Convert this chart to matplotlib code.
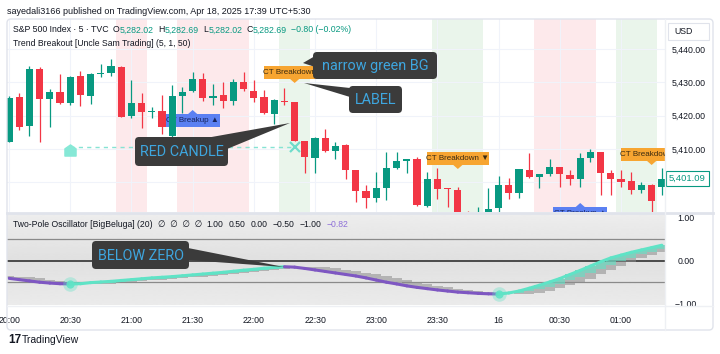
import matplotlib
matplotlib.use("Agg")
import matplotlib.pyplot as plt
import matplotlib.transforms as mtransforms
from matplotlib.patches import FancyBboxPatch, Polygon, Rectangle
from matplotlib.collections import LineCollection
from matplotlib.lines import Line2D
from matplotlib.path import Path
import numpy as np

# ---- data (5 min candles, index 0 = 20:00) ----
times = ["20:00", "20:30", "21:00", "21:30", "22:00", "22:30", "23:00", "23:30", "16", "00:30", "01:00"]
time_pos = [0, 6, 12, 18, 24, 30, 36, 42, 48, 54, 60]

opens = [5412.2, 5425.5, 5416.9, 5434.0, 5424.9, 5427.2, 5423.9, 5432.0, 5426.0, 5432.4,
         5432.9, 5434.7, 5419.9, 5423.9, 5421.0, 5421.4, 5413.9, 5426.0, 5427.4, 5431.0,
         5425.4, 5426.2, 5424.5, 5430.2, 5427.4, 5425.7, 5420.5, 5424.5, 5424.0, 5412.5,
         5407.4, 5413.4, 5409.5, 5411.2, 5403.7, 5397.4, 5395.2, 5398.2, 5404.2, 5406.4,
         5406.9, 5392.9, 5400.9, 5398.2, 5397.7, 5389.5, 5388.0, 5389.0, 5392.2, 5399.2,
         5396.7, 5403.7, 5401.5, 5402.5, 5404.5, 5402.2, 5400.9, 5407.4, 5409.0, 5402.7,
         5401.0, 5400.4, 5397.7, 5399.2, 5398.7]
highs = [5426.0, 5426.7, 5435.0, 5434.6, 5427.9, 5432.5, 5432.0, 5433.4, 5432.9, 5435.4,
         5437.0, 5435.0, 5430.7, 5426.7, 5422.7, 5426.2, 5429.2, 5428.7, 5433.0, 5432.7,
         5429.4, 5430.0, 5431.0, 5433.0, 5430.7, 5427.7, 5425.0, 5428.2, 5424.2, 5412.5,
         5413.5, 5416.0, 5412.0, 5411.5, 5403.7, 5399.2, 5403.2, 5409.2, 5409.0, 5407.0,
         5407.5, 5403.2, 5404.2, 5398.3, 5398.7, 5391.5, 5392.7, 5398.2, 5402.0, 5401.2,
         5404.0, 5408.7, 5402.5, 5406.9, 5404.5, 5403.7, 5408.7, 5409.9, 5409.2, 5403.7,
         5403.7, 5403.2, 5400.0, 5399.5, 5404.2]
lows = [5412.0, 5415.6, 5414.0, 5412.0, 5416.7, 5423.5, 5423.2, 5423.0, 5423.4, 5431.6,
        5432.0, 5419.5, 5419.2, 5416.2, 5419.2, 5414.4, 5413.2, 5420.7, 5427.0, 5424.4,
        5423.2, 5422.2, 5423.2, 5427.4, 5424.0, 5420.5, 5417.5, 5423.2, 5412.3, 5402.7,
        5402.7, 5409.0, 5407.0, 5401.0, 5394.0, 5392.3, 5394.0, 5394.7, 5404.0, 5402.7,
        5393.0, 5392.5, 5394.9, 5392.6, 5388.0, 5386.0, 5386.5, 5388.0, 5391.0, 5394.9,
        5395.2, 5401.2, 5398.2, 5402.0, 5398.7, 5399.2, 5398.7, 5406.2, 5396.2, 5396.2,
        5398.7, 5396.4, 5396.7, 5391.0, 5396.2]
closes = [5425.4, 5416.7, 5434.0, 5424.9, 5427.0, 5423.7, 5431.6, 5426.3, 5432.4, 5432.9,
          5434.9, 5419.7, 5423.7, 5421.0, 5421.4, 5416.7, 5425.9, 5427.2, 5431.0, 5425.4,
          5426.0, 5424.5, 5430.0, 5427.9, 5425.4, 5420.7, 5424.7, 5424.0, 5412.5, 5407.5,
          5413.2, 5409.5, 5411.0, 5403.7, 5397.4, 5395.4, 5398.2, 5404.2, 5406.4, 5406.9,
          5393.2, 5400.9, 5397.9, 5397.9, 5389.5, 5388.0, 5389.0, 5392.0, 5399.2, 5396.7,
          5403.9, 5401.5, 5402.5, 5404.5, 5402.4, 5400.9, 5407.4, 5409.2, 5402.7, 5401.0,
          5400.2, 5397.7, 5399.2, 5394.4, 5401.09]

red_bg = [(11, 13), (17, 23), (52, 57)]
green_bg = [(27, 29), (42, 46), (60, 63)]

breakdown_at = [28, 44, 63]
breakdown_tip = [5429.8, 5404.0, 5405.2]
breakup_at = [18, 56]
breakup_tip = [5421.7, 5393.8]

level_from, level_to = 6, 28
level_price = 5410.5
level_mark = 5409.8

price_ticks = [5410, 5420, 5430, 5440]
hidden_grid = 5400
last_price = 5401.09

osc = [-0.41, -0.44, -0.47, -0.50, -0.52, -0.535, -0.54, -0.535, -0.51, -0.495,
       -0.48, -0.46, -0.44, -0.42, -0.40, -0.385, -0.37, -0.35, -0.33, -0.31,
       -0.29, -0.27, -0.245, -0.22, -0.20, -0.175, -0.155, -0.14, -0.15, -0.18,
       -0.215, -0.25, -0.285, -0.32, -0.355, -0.40, -0.45, -0.50, -0.54, -0.585,
       -0.62, -0.65, -0.68, -0.705, -0.73, -0.745, -0.76, -0.77, -0.775, -0.75,
       -0.705, -0.64, -0.57, -0.495, -0.415, -0.32, -0.225, -0.125, -0.025, 0.065,
       0.13, 0.195, 0.25, 0.305, 0.36]
signal = [-0.35, -0.37, -0.39, -0.41, -0.44, -0.47, -0.50, -0.52, -0.535, -0.54,
          -0.535, -0.51, -0.495, -0.48, -0.46, -0.44, -0.42, -0.40, -0.385, -0.37,
          -0.35, -0.33, -0.31, -0.29, -0.27, -0.245, -0.22, -0.20, -0.175, -0.155,
          -0.14, -0.15, -0.18, -0.215, -0.25, -0.285, -0.32, -0.355, -0.40, -0.45,
          -0.50, -0.54, -0.585, -0.62, -0.65, -0.68, -0.705, -0.73, -0.745, -0.76,
          -0.77, -0.775, -0.75, -0.705, -0.64, -0.57, -0.495, -0.415, -0.32, -0.225,
          -0.125, -0.025, 0.065, 0.13, 0.195]
osc_marks = [6, 48]
osc_ticks = [1.0, 0.0, -1.0]

# ---- styling ----
GREEN = "#089981"
RED = "#f23645"
TEAL = "#5fe3c6"
PURPLE = "#7e57c2"
DARK = "#131722"
UI = ["Liberation Sans", "DejaVu Sans"]

W, H = 720, 354
fig = plt.figure(figsize=(W / 100, H / 100), dpi=100)
fig.patch.set_facecolor("white")
# pixel coords, origin top-left
pix = mtransforms.Affine2D().scale(1 / W, -1 / H).translate(0, 1) + fig.transFigure

x = np.arange(len(opens))
o, h, l, c = (np.array(v) for v in (opens, highs, lows, closes))

# ---------------- price pane ----------------
ax = fig.add_axes([7 / W, 1 - 212 / H, 658 / W, 193 / H])
for a, b in red_bg:
    ax.axvspan(a - 0.5, b + 0.5, color="#fde9eb", lw=0, zorder=0)
for a, b in green_bg:
    ax.axvspan(a - 0.5, b + 0.5, color="#eaf5eb", lw=0, zorder=0)

col = np.where(c >= o, GREEN, RED)
ax.vlines(x, l, h, colors=col, lw=0.9, zorder=3)
ax.bar(x, np.maximum(np.abs(c - o), 0.25), bottom=np.minimum(o, c), width=0.7,
       color=col, lw=0, zorder=4)

# breakout level line
ax.plot([level_from, level_to], [level_price, level_price], color="#86e3d4",
        lw=1, dashes=(3, 3), zorder=2)
house = Path([(-1, -1), (1, -1), (1, 0.3), (0, 1), (-1, 0.3), (-1, -1)],
             [Path.MOVETO, Path.LINETO, Path.LINETO, Path.LINETO, Path.LINETO, Path.CLOSEPOLY])
ax.plot([level_from], [level_mark], marker=house, ms=8, color="#86e8d6", zorder=5)
ax.plot([level_to], [level_price], marker="x", ms=7, mew=1.6, color="#6fdccb", zorder=5)


def tag(i, tip, text, fc, tc, down, w):
    hgt, gap = 3.9, 1.2
    if down:
        y0 = tip + gap
        tri = [(i - 0.45, y0 + 0.01), (i + 0.45, y0 + 0.01), (i, tip)]
    else:
        y0 = tip - gap - hgt
        tri = [(i - 0.45, tip - gap - 0.01), (i + 0.45, tip - gap - 0.01), (i, tip)]
    ax.add_patch(Rectangle((i - w / 2, y0), w, hgt, fc=fc, ec="none", zorder=3.5))
    ax.add_patch(Polygon(tri, closed=True, fc=fc, ec="none", zorder=3.5))
    ax.text(i, y0 + hgt / 2, text, ha="center", va="center", fontsize=5.8,
            family=UI, color=tc, zorder=3.6, clip_on=True)


for i, tp in zip(breakdown_at, breakdown_tip):
    tag(i, tp, "CT Breakdown ▼", "#f7a531", "#3a2a10", True, 6.1)
for i, tp in zip(breakup_at, breakup_tip):
    tag(i, tp, "CT Breakup ▲", "#5b80f2", "#17245e", False, 5.3)

ax.set_xlim(-0.2, 64.31)
ax.set_ylim(5391.1, 5449.0)
ax.set_xticks(time_pos)
ax.set_yticks(price_ticks)
ax.set_yticklabels([f"{v:,.2f}" for v in price_ticks])
ax.yaxis.tick_right()
ax.tick_params(axis="y", length=0, pad=5, labelsize=6.3, labelcolor=DARK)
ax.tick_params(axis="x", length=0, labelbottom=False)
for lab in ax.get_yticklabels():
    lab.set_family(UI)
ax.grid(True, color="#f0f3fa", lw=0.8, zorder=0)
ax.axhline(hidden_grid, color="#f0f3fa", lw=0.8, zorder=0.5)
ax.set_axisbelow(True)
for s in ax.spines.values():
    s.set_visible(False)

pbox = mtransforms.blended_transform_factory(ax.transAxes, ax.transData)
ax.text(1.0 + 4 / 658, last_price, f"{last_price:,.2f}", transform=pbox, ha="left",
        va="center", fontsize=6.8, family=UI, color=GREEN, clip_on=False, zorder=8,
        bbox=dict(boxstyle="square,pad=0.3", fc="white", ec=GREEN, lw=0.8))


def callout(axx, box, text, base, tip):
    x0, y0, x1, y1 = box
    axx.add_patch(Polygon([base[0], base[1], tip], closed=True, fc="#3b3b3b",
                          ec="none", transform=pix, clip_on=False, zorder=6))
    axx.add_patch(FancyBboxPatch((x0, y0), x1 - x0, y1 - y0,
                                 boxstyle="round,pad=0,rounding_size=4",
                                 fc="#3b3b3b", ec="none", transform=pix,
                                 clip_on=False, zorder=6))
    axx.text((x0 + x1) / 2, (y0 + y1) / 2 + 0.5, text, transform=pix, ha="center",
             va="center", fontsize=10.4, family=["Roboto", "DejaVu Sans"],
             color="#3ea6df", zorder=7, clip_on=False)


callout(ax, (313, 52, 437, 79), "narrow green BG", [(315, 56), (315, 67)], (303, 63))
callout(ax, (349, 86, 402, 113), "LABEL", [(350, 88), (350, 97)], (304, 83))
callout(ax, (135, 137, 228, 166), "RED CANDLE", [(206, 138), (227, 149)], (290, 123))

# ---------------- oscillator pane ----------------
ax2 = fig.add_axes([7 / W, 1 - 305 / H, 658 / W, 91 / H])
y_lo, y_hi = -1.03, 1.086
grad = np.interp(np.linspace(0, 1, 200), [0, 0.5, 1], [0.93, 0.88, 0.92])
ax2.imshow(grad[:, None], cmap="gray", vmin=0, vmax=1, aspect="auto",
           extent=[-0.2, 64.31, y_lo, y_hi], zorder=0, interpolation="bilinear")
ax2.axhline(0.5, color="#8a8a8a", lw=0.9, zorder=1)
ax2.axhline(-0.5, color="#8a8a8a", lw=0.9, zorder=1)
ax2.axhline(0.0, color="#3f3f3f", lw=1.3, zorder=1)

oa, sa = np.array(osc), np.array(signal)
ax2.bar(x, sa - oa, bottom=oa, width=1.0, color="#8c8c8c", alpha=0.55, lw=0, zorder=2)
up = oa >= sa
ax2.bar(x[up], (sa - oa)[up] * 0.55, bottom=oa[up], width=1.0, color=TEAL,
        alpha=0.6, lw=0, zorder=2.2)
ax2.bar(x[~up], (sa - oa)[~up] * 0.4, bottom=oa[~up], width=1.0, color="#b9b9b9",
        alpha=0.6, lw=0, zorder=2.2)

segs = [[(x[i], oa[i]), (x[i + 1], oa[i + 1])] for i in range(len(x) - 1)]
seg_col = [TEAL if oa[i + 1] >= oa[i] else PURPLE for i in range(len(x) - 1)]
ax2.add_collection(LineCollection(segs, colors=seg_col, lw=2.2, zorder=3,
                                  capstyle="round"))
ax2.scatter([x[i] for i in osc_marks], [oa[i] for i in osc_marks], s=110,
            color=TEAL, alpha=0.35, lw=0, zorder=4)
ax2.scatter([x[i] for i in osc_marks], [oa[i] for i in osc_marks], s=35,
            color=TEAL, alpha=0.9, lw=0, zorder=4)

ax2.set_xlim(-0.2, 64.31)
ax2.set_ylim(y_lo, y_hi)
ax2.set_xticks(time_pos)
ax2.set_xticklabels(times)
ax2.set_yticks(osc_ticks)
ax2.set_yticklabels([f"{v:.2f}".replace("-", "−") for v in osc_ticks])
ax2.yaxis.tick_right()
ax2.tick_params(axis="y", length=0, pad=15, labelsize=6.3, labelcolor=DARK)
ax2.tick_params(axis="x", length=0, pad=8, labelsize=6.3, labelcolor=DARK)
for lab in ax2.get_yticklabels():
    lab.set_family(UI)
    lab.set_horizontalalignment("center")
for lab in ax2.get_xticklabels():
    lab.set_family(UI)
for s in ax2.spines.values():
    s.set_visible(False)

callout(ax2, (92, 241, 189, 269), "BELOW ZERO", [(188, 248), (188, 260)], (284, 267))

# ---------------- frame & texts ----------------
fig.add_artist(FancyBboxPatch((7, 19), 706, 311, boxstyle="round,pad=0,rounding_size=4",
                              fc="none", ec="#e0e3eb", lw=1, transform=pix))
fig.add_artist(Line2D([7, 713], [213, 213], color="#e0e3eb", lw=2, transform=pix))
fig.add_artist(Line2D([665, 665], [19, 330], color="#eef0f4", lw=1, transform=pix))
fig.add_artist(Line2D([7, 713], [306, 306], color="#eef0f4", lw=1, transform=pix))

renderer = fig.canvas.get_renderer()


def text_row(x0, y0, parts, size):
    for s, colr, gap in parts:
        t = fig.text(x0 / W, 1 - y0 / H, s, color=colr, fontsize=size, family=UI,
                     va="center", ha="left", zorder=9)
        x0 += t.get_window_extent(renderer=renderer).width + gap


text_row(7, 11, [("sayedali3166 published on TradingView.com, Apr 18, 2025 17:39 UTC+5:30", DARK, 0)], 6.5)
text_row(13, 30, [("S&P 500 Index · 5 · TVC", DARK, 4), ("O", DARK, 0.5), ("5,282.02", GREEN, 4),
                  ("H", DARK, 0.5), ("5,282.69", GREEN, 4), ("L", DARK, 0.5), ("5,282.02", GREEN, 4),
                  ("C", DARK, 0.5), ("5,282.69", GREEN, 4), ("−0.80 (−0.02%)", GREEN, 0)], 6.3)
text_row(13, 44, [("Trend Breakout [Uncle Sam Trading] (5, 1, 50)", DARK, 0)], 6.2)
text_row(13, 224, [("Two-Pole Oscillator [BigBeluga] (20)", DARK, 5), ("∅  ∅  ∅  ∅", DARK, 5),
                   ("1.00", DARK, 5), ("0.50", DARK, 5), ("0.00", DARK, 5), ("−0.50", DARK, 5),
                   ("−1.00", DARK, 5), ("−0.82", "#8e6fd8", 0)], 6.2)

fig.add_artist(Rectangle((668, 23), 41, 17, fc="white", ec="#e0e3eb", lw=0.8, transform=pix))
fig.text(674 / W, 1 - 31.5 / H, "USD", fontsize=6.3, family=UI, color=DARK, va="center")

fig.text(8 / W, 1 - 340 / H, "17", fontsize=8.5, weight="heavy", family=UI, color=DARK,
         va="center")
fig.text(22 / W, 1 - 340 / H, "TradingView", fontsize=7.5, family=UI, color=DARK, va="center")

fig.savefig("out.png", dpi=100)
